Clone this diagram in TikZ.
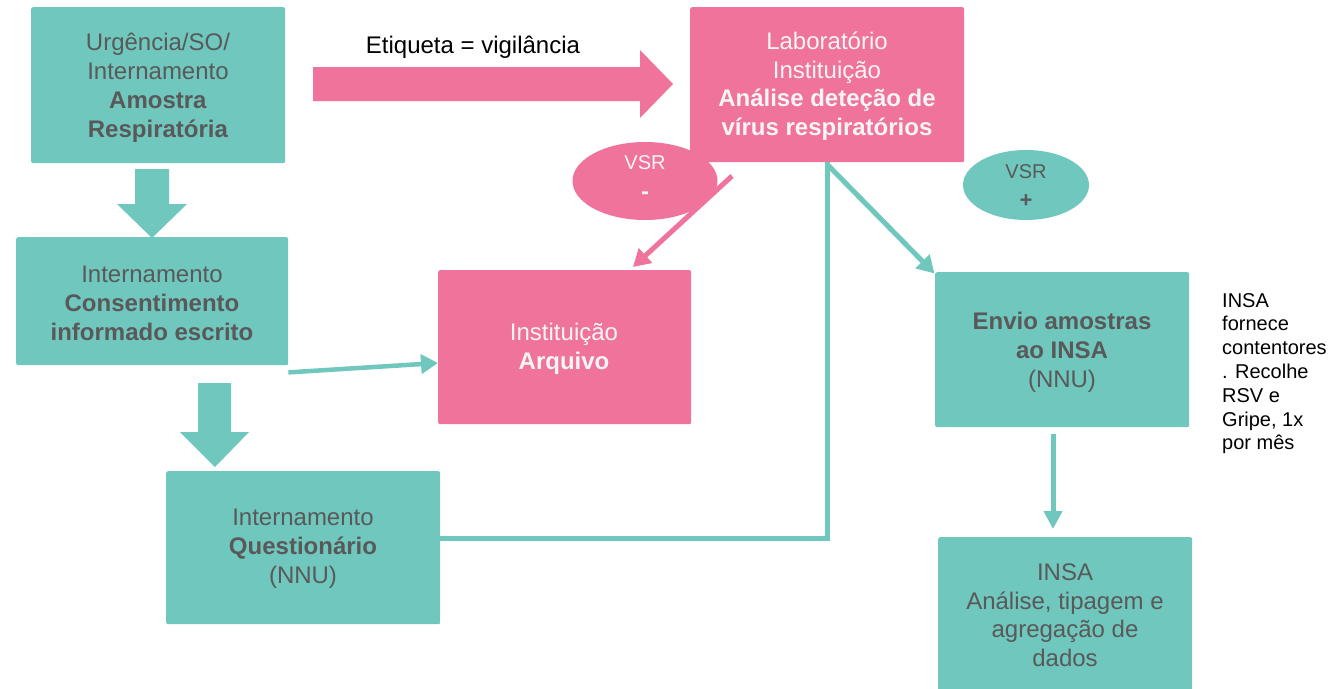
\documentclass[tikz,border=0pt]{standalone}
\usepackage{fontspec}
\setmainfont{Liberation Sans}
\usetikzlibrary{arrows.meta,shapes.geometric,calc}
\definecolor{teal1}{RGB}{111,199,190}
\definecolor{pink1}{RGB}{240,115,155}
\definecolor{txtgray}{RGB}{89,89,89}
\definecolor{txtwhite}{RGB}{245,245,245}
\begin{document}
\begin{tikzpicture}[x=1pt,y=-1pt,
  tbox/.style={rectangle, rounded corners=2pt, inner sep=0pt, anchor=north west, fill=teal1},
  pbox/.style={rectangle, rounded corners=2pt, inner sep=0pt, anchor=north west, fill=pink1},
  gtxt/.style={text=txtgray, align=center, inner sep=0pt, font=\fontsize{24}{29}\selectfont},
  wtxt/.style={text=txtwhite, align=center, inner sep=0pt, font=\fontsize{24}{29}\selectfont},
  tconn/.style={draw=teal1, line width=5pt, -{Triangle[length=17pt,width=19pt]}},
  pconn/.style={draw=pink1, line width=5pt, -{Triangle[length=17pt,width=19pt]}},
  tline/.style={draw=teal1, line width=5pt}
]
\useasboundingbox[fill=white] (0,0) rectangle (1341,688);

% boxes
\node[tbox, minimum width=254pt, minimum height=156pt] (A) at (31,7) {};
\node[tbox, minimum width=272pt, minimum height=128pt] (B) at (16,237) {};
\node[tbox, minimum width=274pt, minimum height=153pt] (C) at (166,471) {};
\node[pbox, minimum width=274pt, minimum height=155pt] (L) at (690,7) {};
\node[pbox, minimum width=253pt, minimum height=154pt] (R) at (438,270) {};
\node[tbox, minimum width=254pt, minimum height=155pt] (E) at (935,272) {};
\node[tbox, minimum width=254pt, minimum height=165pt] (I) at (938,537) {};

% ellipses
\node[ellipse, fill=pink1, minimum width=145pt, minimum height=78pt, inner sep=0pt] (VM) at (645,181) {};
\node[text=txtwhite, font=\fontsize{20}{24}\selectfont] (VMa) at (645,163) {VSR};
\node[text=txtwhite, font=\fontsize{24}{24}\selectfont\bfseries] (VMb) at (645,196) {-};
\node[ellipse, fill=teal1, minimum width=126pt, minimum height=70pt, inner sep=0pt] (VP) at (1026,185) {};
\node[text=txtgray, font=\fontsize{20}{24}\selectfont] (VPa) at (1026,172) {VSR};
\node[text=txtgray, font=\fontsize{22}{24}\selectfont\bfseries] (VPb) at (1026,201) {+};

% texts
\node[gtxt] (At) at (158,88) {Urgência/SO/\\Internamento\\\textbf{Amostra}\\\textbf{Respiratória}};
\node[gtxt] (Bt) at (152,303) {Internamento\\\textbf{Consentimento}\\\textbf{informado escrito}};
\node[gtxt] (Ct) at (303,549) {Internamento\\\textbf{Questionário}\\(NNU)};
\node[wtxt, font=\fontsize{24}{28.5}\selectfont] (Lt) at (827,86) {Laboratório\\Instituição\\\textbf{Análise deteção de}\\\textbf{vírus respiratórios}};
\node[wtxt, font=\fontsize{24}{29}\selectfont] (Rt) at (564,349) {Instituição\\\textbf{Arquivo}};
\node[gtxt, font=\fontsize{24}{29}\selectfont] (Et) at (1062,352) {\textbf{Envio amostras}\\\textbf{ao INSA}\\(NNU)};
\node[gtxt, font=\fontsize{24}{28.5}\selectfont] (It) at (1065,615) {INSA\\Análise, tipagem e\\agregação de\\dados};
\node[text=black, inner sep=0pt, font=\fontsize{24}{29}\selectfont] (lab) at (473,47) {Etiqueta = vigilância};
\node[text=black, inner sep=0pt, anchor=north west, align=left, font=\fontsize{20}{23.8}\selectfont] (side) at (1222,293) {INSA\\fornece\\contentores\\. Recolhe\\RSV e\\Gripe, 1x\\por mês};

% block arrows
\fill[teal1] (135,169) -- (169,169) -- (169,204) -- (187,204) -- (152,238) -- (117,204) -- (135,204) -- cycle;
\fill[teal1] (198,383) -- (231,383) -- (231,432) -- (249,432) -- (215,467) -- (180,432) -- (198,432) -- cycle;
\fill[pink1] (313,67) -- (640,67) -- (640,50) -- (673,84) -- (640,118) -- (640,101) -- (313,101) -- cycle;

% connectors
\coordinate (Bo) at ($(B.south east)+(0,7)$);
\coordinate (Ri) at (R.west |- 0,363);
\draw[tconn, line width=4.5pt] (Bo) -- (Ri);
\coordinate (Cm) at (C.east |- 0,538);
\coordinate (Lc) at (L.south |- 0,538);
\draw[tline] (Cm) -- (Lc) -- (L.south);
\coordinate (Ls) at ($(L.south)+(0,2)$);
\coordinate (Ein) at (933,272);
\draw[tconn, shorten >=-2pt] (Ls) -- (Ein);
\coordinate (Ps) at (732,176);
\coordinate (Pe) at (633,267);
\draw[pconn] (Ps) -- (Pe);
\coordinate (Es) at (1053,434);
\coordinate (Ie) at (1053,529);
\draw[tconn, -{Triangle[length=18pt,width=18pt]}] (Es) -- (Ie);
\end{tikzpicture}
\end{document}
